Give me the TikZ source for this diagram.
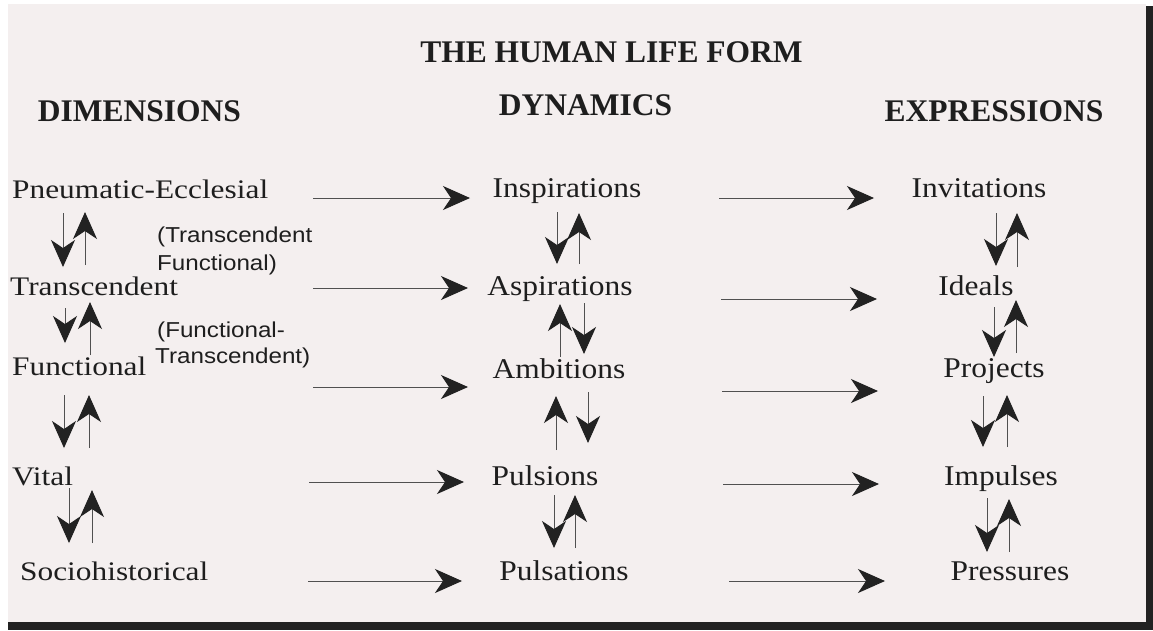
\documentclass[tikz,border=0pt]{standalone}
\usepackage{fontspec}
\usetikzlibrary{arrows.meta}
\setmainfont{Liberation Serif}
\newfontfamily\headfont{Liberation Serif}
\newfontfamily\leftfont[FakeStretch=1.17]{Liberation Serif}
\newfontfamily\bodyfont[FakeStretch=1.1]{Liberation Serif}
\newfontfamily\notefont[FakeStretch=1.12]{Liberation Sans}
\definecolor{paper}{HTML}{F4EFEF}
\definecolor{ink}{HTML}{1E1E1E}
\definecolor{rimcol}{HTML}{222222}
\definecolor{headcol}{HTML}{222222}
\definecolor{stemcol}{HTML}{505050}
\begin{document}
\begin{tikzpicture}[x=1pt,y=-1pt,
  heading/.style={font=\headfont\bfseries\fontsize{31.5}{36}\selectfont, text=ink, inner sep=0pt, anchor=base},
  lefttext/.style={font=\leftfont\fontsize{26.8}{30}\selectfont, text=ink, inner sep=0pt, anchor=base west},
  bodytext/.style={font=\bodyfont\fontsize{28.6}{32}\selectfont, text=ink, inner sep=0pt, anchor=base},
  notetext/.style={font=\notefont\fontsize{21.6}{26}\selectfont, text=ink, inner sep=0pt, anchor=base west},
  harrow/.style={draw=stemcol, line width=1pt, -{Stealth[length=27pt,width=24pt,inset=8pt,color=headcol]}},
  varrow/.style={draw=stemcol, line width=1pt, -{Stealth[length=27pt,width=24pt,inset=8pt,color=headcol]}}
]
\useasboundingbox (0,0) rectangle (1153,630);
\fill[white] (0,0) rectangle (1153,630);
\fill[rimcol] (8,6) rectangle (1153,630);
\fill[paper] (8,4) rectangle (1146,622);

% headings
\node[heading] (title) at (611.5,62) {THE HUMAN LIFE FORM};
\node[heading] (hdim) at (139.5,121) {DIMENSIONS};
\node[heading] (hdyn) at (585.5,115) {DYNAMICS};
\node[heading] (hexp) at (994,121) {EXPRESSIONS};

% dimensions
\node[lefttext] (pe) at (12,198) {Pneumatic-Ecclesial};
\node[lefttext] (tr) at (10,295) {Transcendent};
\node[lefttext] (fu) at (12,375) {Functional};
\node[lefttext] (vi) at (12,485) {Vital};
\node[lefttext] (so) at (20,580) {Sociohistorical};

% notes
\node[notetext] (n1a) at (157,242) {(Transcendent};
\node[notetext] (n1b) at (157,270) {Functional)};
\node[notetext] (n2a) at (157,337) {(Functional-};
\node[notetext] (n2b) at (155,363) {Transcendent)};

% dynamics
\node[bodytext] (insp) at (567,197) {Inspirations};
\node[bodytext] (asp) at (560,295) {Aspirations};
\node[bodytext] (amb) at (559,378) {Ambitions};
\node[bodytext] (pul) at (545,485) {Pulsions};
\node[bodytext] (pus) at (564,580) {Pulsations};

% expressions
\node[bodytext] (inv) at (979,197) {Invitations};
\node[bodytext] (ide) at (976,295) {Ideals};
\node[bodytext] (pro) at (994,377) {Projects};
\node[bodytext] (imp) at (1001,485) {Impulses};
\node[bodytext] (pre) at (1010,580) {Pressures};

% horizontal arrows (left to middle)
\foreach \n/\xa/\xb/\yy in {1/313/470/198, 2/313/468/288, 3/313/468/387, 4/309/464/482, 5/308/462/581}{
  \coordinate (ls\n) at (\xa,\yy);
  \coordinate (le\n) at (\xb,\yy);
  \draw[harrow] (ls\n) -- (le\n);
}
% horizontal arrows (middle to right)
\foreach \n/\xa/\xb/\yy in {1/719/874/198, 2/721/877/299, 3/722/878/391, 4/723/879/484, 5/729/885/581}{
  \coordinate (rs\n) at (\xa,\yy);
  \coordinate (re\n) at (\xb,\yy);
  \draw[harrow] (rs\n) -- (re\n);
}

% vertical arrow pairs: name/x/ystart/yend
\foreach \n/\xx/\ya/\yb in {
  ld1/63/213/267, lu1/85/265/212,
  ld2/65/308/343, lu2/90/355/302,
  ld3/64/395/448, lu3/89/448/395,
  ld4/69/488/543, lu4/92/543/490,
  md1/557/212/264, mu1/579/264/213,
  mu2/560/357/304, md2/584/303/354,
  mu3/556/450/396, md3/588/392/443,
  md4/554/495/548, mu4/575/548/495,
  rd1/996/213/266, ru1/1017/267/213,
  rd2/994/307/357, ru2/1016/353/300,
  rd3/983/396/447, ru3/1007/447/395,
  rd4/987/498/552, ru4/1009/552/499}{
  \coordinate (\n-a) at (\xx,\ya);
  \coordinate (\n-b) at (\xx,\yb);
  \draw[varrow] (\n-a) -- (\n-b);
}
\end{tikzpicture}
\end{document}
